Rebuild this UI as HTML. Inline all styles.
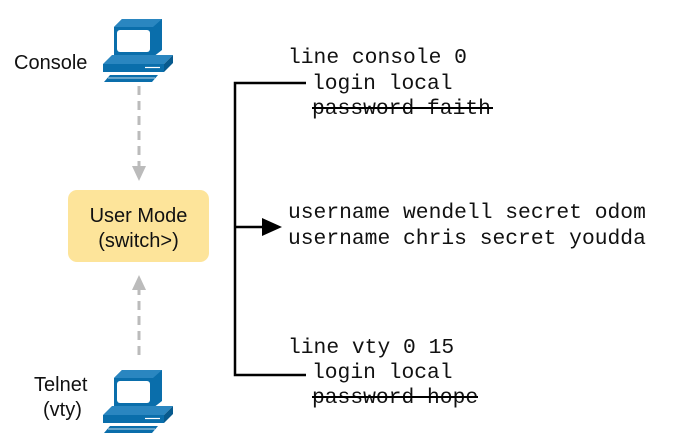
<!DOCTYPE html>
<html><head><style>
body{margin:0;background:#fff;width:675px;height:443px;overflow:hidden}
svg{display:block}
.m{font-family:"Liberation Mono",monospace;font-size:21.3px;fill:#111}
.s{font-family:"Liberation Sans",sans-serif;font-size:20px;fill:#111}
</style></head><body>
<svg width="675" height="443" viewBox="0 0 675 443">
<defs>
<g id="pc">
<polygon points="114,27 122,19 162,19 162,50 153,57 114,57" fill="#0a6eab"/>
<polygon points="114,27 122,19 162,19 153,27" fill="#2a86c0"/>
<rect x="117" y="30" width="33" height="22" rx="3" fill="#fff"/>
<polygon points="103,64 112,55 173,55 164,64" fill="#2a86c0"/>
<polygon points="164,64 173,55 173,63 164,72" fill="#075a8e"/>
<rect x="103" y="64" width="61" height="8" fill="#0a6eab"/>
<line x1="145" y1="67.5" x2="160" y2="67.5" stroke="#fff" stroke-width="1.2"/>
<polygon points="104,82 110,75 158,75 152,82" fill="#0a6eab"/>
<line x1="108" y1="78" x2="155" y2="78" stroke="#fff" stroke-width="0.8"/>
</g>
</defs>
<use href="#pc"/>
<use href="#pc" transform="translate(0,351)"/>
<text class="s" x="14" y="69">Console</text>
<text class="s" x="34" y="391">Telnet</text>
<text class="s" x="43" y="416">(vty)</text>

<line x1="139" y1="86" x2="139" y2="168" stroke="#bbb" stroke-width="3" stroke-dasharray="9,6"/>
<polygon points="132,166 146,166 139,181" fill="#bbb"/>
<line x1="139" y1="355" x2="139" y2="287" stroke="#bbb" stroke-width="3" stroke-dasharray="9,6"/>
<polygon points="132,290 146,290 139,275" fill="#bbb"/>

<rect x="68" y="190" width="141" height="72" rx="9" fill="#fde49a"/>
<text class="s" x="138.5" y="222" text-anchor="middle">User Mode</text>
<text class="s" x="138.5" y="247" text-anchor="middle">(switch&gt;)</text>

<polyline points="306,83 235,83 235,375 306,375" fill="none" stroke="#000" stroke-width="2.5"/>
<line x1="235" y1="227" x2="266" y2="227" stroke="#000" stroke-width="2.5"/>
<polygon points="262,218 282,227 262,236" fill="#000"/>

<text class="m" x="288" y="63">line console 0</text>
<text class="m" x="312" y="89">login local</text>
<text class="m" x="312" y="114">password faith</text>
<line x1="312" y1="108" x2="493" y2="108" stroke="#000" stroke-width="2"/>
<text class="m" x="288" y="218">username wendell secret odom</text>
<text class="m" x="288" y="244">username chris secret youdda</text>
<text class="m" x="288" y="353">line vty 0 15</text>
<text class="m" x="312" y="378">login local</text>
<text class="m" x="312" y="403">password hope</text>
<line x1="312" y1="397" x2="478" y2="397" stroke="#000" stroke-width="2"/>
</svg>
</body></html>
